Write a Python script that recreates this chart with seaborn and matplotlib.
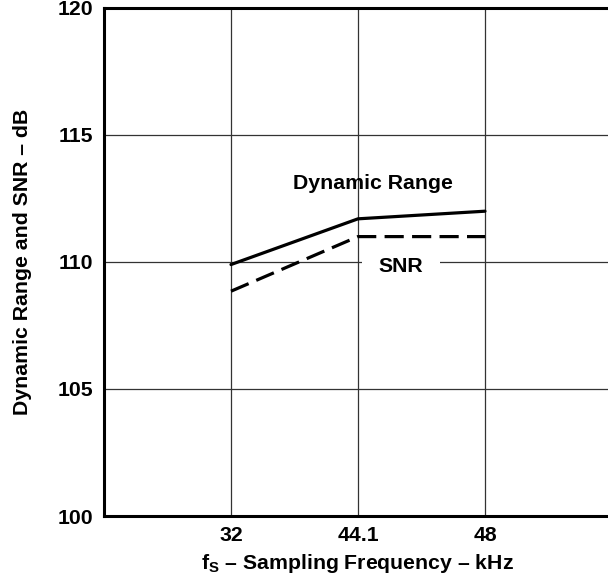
import matplotlib
matplotlib.use("Agg")
import matplotlib.pyplot as plt
import seaborn as sns
import pandas as pd

freq_labels = ["32", "44.1", "48"]
dynamic_range = [109.9, 111.7, 112.0]
snr = [108.85, 111.0, 111.0]

sns.set_theme(style="white")
plt.rcParams["font.family"] = ["Liberation Sans", "DejaVu Sans"]
plt.rcParams["font.weight"] = "bold"
plt.rcParams["mathtext.fontset"] = "custom"
plt.rcParams["mathtext.rm"] = "Liberation Sans:bold"
plt.rcParams["mathtext.it"] = "Liberation Sans:bold"
plt.rcParams["mathtext.bf"] = "Liberation Sans:bold"

FS = 15.3

df = pd.DataFrame({
    "freq": freq_labels * 2,
    "value": dynamic_range + snr,
    "series": ["Dynamic Range"] * 3 + ["SNR"] * 3,
})

fig = plt.figure(figsize=(6.08, 5.82), dpi=100)
ax = fig.add_axes([104 / 608, 66 / 582, 508 / 608, 508 / 582])

sns.lineplot(data=df, x="freq", y="value", style="series",
             dashes={"Dynamic Range": "", "SNR": (6, 2.6)},
             color="black", linewidth=2.3, legend=False, ax=ax, zorder=3)

ax.set_xlim(-1, 3)
ax.set_ylim(100, 120)
ax.set_yticks([100, 105, 110, 115, 120])
ax.set_xticks([0, 1, 2])
ax.set_xticklabels(freq_labels)
ax.grid(True, color="#333333", linewidth=0.9)
ax.set_axisbelow(True)
ax.tick_params(length=0, labelsize=FS, colors="black")
ax.tick_params(axis="y", pad=8)
ax.tick_params(axis="x", pad=7)
for lab in ax.get_xticklabels() + ax.get_yticklabels():
    lab.set_fontweight("bold")

for side in ["left", "top", "bottom"]:
    ax.spines[side].set_color("black")
    ax.spines[side].set_linewidth(2.2)
ax.spines["right"].set_visible(False)

ax.set_xlabel(r"f$_{\mathrm{S}}$ – Sampling Frequency – kHz", fontsize=FS,
              fontweight="bold", color="black", labelpad=5)
ax.set_ylabel("Dynamic Range and SNR – dB", fontsize=FS,
              fontweight="bold", color="black", labelpad=18)

ax.text(1.12, 113.1, "Dynamic Range", ha="center", va="center",
        fontsize=FS, fontweight="bold", color="black", zorder=2)
ax.text(1.34, 109.84, "SNR", ha="center", va="center",
        fontsize=FS, fontweight="bold", color="black", zorder=2,
        bbox=dict(boxstyle="square,pad=0.8", facecolor="white", edgecolor="none"))

fig.savefig("out.png", dpi=100)
